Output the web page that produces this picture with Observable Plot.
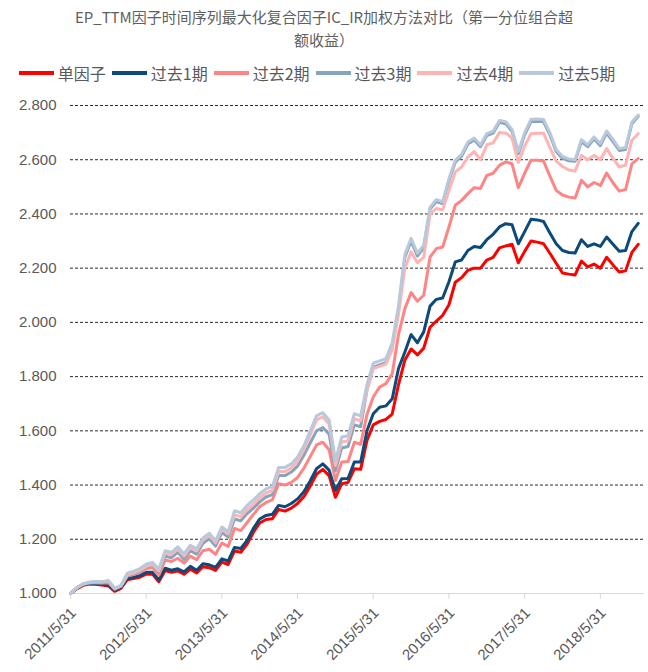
<!DOCTYPE html>
<html><head><meta charset="utf-8">
<script src="https://cdn.jsdelivr.net/npm/d3@7"></script>
<script src="https://cdn.jsdelivr.net/npm/@observablehq/plot@0.6"></script>
<style>
body{margin:0;background:#fff;}
#wrap{position:relative;width:648px;height:672px;overflow:hidden;background:#fff;}
#title{position:absolute;left:0;width:648px;top:5px;text-align:center;font-family:"Noto Sans CJK SC",sans-serif;font-size:15px;line-height:23px;color:#5f5f5f;}
#legend{position:absolute;top:61px;left:-7px;width:648px;display:flex;justify-content:center;align-items:center;font-family:"Noto Sans CJK SC",sans-serif;font-size:16px;color:#595959;}
.item{display:flex;align-items:center;margin:0 3px;}
.sw{width:35px;height:3.5px;margin-right:4px;}
#chart{position:absolute;left:0;top:0;}
</style>
</head><body>
<div id="wrap">
  <div id="title"></div>
  <div id="legend"></div>
  <div id="chart"></div>
</div>
<script>
const titleLines = ["EP_TTM因子时间序列最大化复合因子IC_IR加权方法对比（第一分位组合超", "额收益）"];
const seriesNames = ["单因子","过去1期","过去2期","过去3期","过去4期","过去5期"];
const seriesColors = ["#ff0000","#0c4a7a","#ff8585","#87a4bd","#ffb3b3","#b7c9da"];
const xTickLabels = ["2011/5/31","2012/5/31","2013/5/31","2014/5/31","2015/5/31","2016/5/31","2017/5/31","2018/5/31"];
const yTicks = [1.0,1.2,1.4,1.6,1.8,2.0,2.2,2.4,2.6,2.8];

const single = [1.000,1.017,1.030,1.035,1.034,1.031,1.028,1.008,1.019,1.051,1.055,1.060,1.071,1.072,1.043,1.085,1.078,1.083,1.071,1.090,1.076,1.099,1.095,1.085,1.116,1.107,1.157,1.152,1.182,1.226,1.260,1.273,1.276,1.310,1.304,1.315,1.332,1.357,1.396,1.440,1.458,1.435,1.355,1.405,1.410,1.460,1.458,1.565,1.622,1.635,1.642,1.662,1.770,1.860,1.902,1.880,1.905,1.982,2.005,2.026,2.065,2.148,2.165,2.192,2.200,2.200,2.230,2.240,2.275,2.282,2.288,2.220,2.262,2.300,2.296,2.290,2.255,2.218,2.182,2.178,2.175,2.226,2.205,2.215,2.200,2.240,2.212,2.186,2.190,2.258,2.288];
const past1 = [1.000,1.020,1.033,1.038,1.036,1.034,1.031,1.012,1.023,1.055,1.060,1.066,1.078,1.078,1.050,1.093,1.086,1.091,1.080,1.100,1.086,1.110,1.106,1.096,1.128,1.120,1.170,1.166,1.196,1.240,1.275,1.288,1.292,1.325,1.320,1.332,1.349,1.375,1.415,1.460,1.478,1.455,1.380,1.423,1.424,1.485,1.485,1.600,1.663,1.687,1.692,1.718,1.830,1.890,1.955,1.925,1.965,2.060,2.085,2.090,2.150,2.223,2.230,2.265,2.280,2.276,2.305,2.325,2.352,2.364,2.360,2.290,2.335,2.380,2.378,2.372,2.330,2.290,2.265,2.258,2.256,2.305,2.280,2.290,2.280,2.315,2.288,2.262,2.265,2.335,2.365];
const past2 = [1.000,1.021,1.035,1.040,1.040,1.039,1.040,1.016,1.027,1.064,1.070,1.078,1.092,1.096,1.068,1.124,1.118,1.130,1.112,1.138,1.125,1.158,1.163,1.145,1.186,1.174,1.240,1.232,1.262,1.292,1.320,1.336,1.345,1.405,1.400,1.410,1.428,1.462,1.505,1.548,1.558,1.530,1.417,1.485,1.487,1.558,1.550,1.660,1.725,1.761,1.774,1.810,1.955,2.050,2.110,2.078,2.100,2.241,2.272,2.278,2.352,2.432,2.450,2.475,2.497,2.494,2.542,2.550,2.579,2.592,2.585,2.497,2.550,2.598,2.598,2.595,2.540,2.487,2.470,2.462,2.459,2.524,2.500,2.516,2.505,2.551,2.515,2.484,2.490,2.585,2.604];
const past3 = [1.000,1.020,1.033,1.039,1.041,1.040,1.045,1.017,1.027,1.065,1.072,1.082,1.098,1.105,1.080,1.138,1.132,1.152,1.126,1.158,1.145,1.185,1.202,1.175,1.225,1.208,1.275,1.268,1.295,1.315,1.338,1.356,1.365,1.435,1.435,1.448,1.470,1.510,1.555,1.600,1.612,1.588,1.452,1.537,1.542,1.622,1.615,1.750,1.835,1.843,1.851,1.910,2.045,2.240,2.300,2.245,2.275,2.418,2.446,2.438,2.523,2.591,2.613,2.658,2.673,2.648,2.689,2.698,2.738,2.733,2.705,2.622,2.692,2.741,2.742,2.740,2.692,2.630,2.605,2.596,2.594,2.667,2.648,2.677,2.652,2.698,2.667,2.634,2.638,2.733,2.760];
const past4 = [1.000,1.021,1.035,1.041,1.043,1.042,1.046,1.018,1.028,1.068,1.075,1.085,1.100,1.107,1.083,1.150,1.144,1.164,1.138,1.170,1.157,1.197,1.214,1.187,1.237,1.220,1.290,1.283,1.310,1.330,1.353,1.371,1.380,1.450,1.450,1.463,1.488,1.530,1.585,1.640,1.652,1.625,1.472,1.559,1.564,1.645,1.637,1.750,1.830,1.838,1.846,1.900,2.030,2.200,2.260,2.220,2.240,2.400,2.420,2.415,2.487,2.555,2.573,2.610,2.630,2.600,2.655,2.662,2.700,2.698,2.680,2.590,2.650,2.696,2.698,2.698,2.645,2.595,2.575,2.562,2.558,2.616,2.600,2.616,2.600,2.641,2.605,2.573,2.580,2.672,2.696];
const past5 = [1.000,1.022,1.036,1.042,1.044,1.043,1.048,1.020,1.030,1.075,1.082,1.092,1.108,1.115,1.090,1.158,1.152,1.172,1.146,1.178,1.165,1.205,1.222,1.195,1.245,1.228,1.305,1.298,1.325,1.345,1.368,1.386,1.395,1.465,1.465,1.478,1.503,1.545,1.600,1.655,1.667,1.640,1.490,1.577,1.582,1.663,1.655,1.770,1.850,1.858,1.866,1.925,2.060,2.250,2.310,2.255,2.285,2.425,2.453,2.445,2.530,2.598,2.620,2.665,2.680,2.655,2.696,2.705,2.745,2.740,2.712,2.630,2.700,2.749,2.750,2.748,2.700,2.638,2.612,2.603,2.600,2.674,2.655,2.684,2.660,2.706,2.675,2.641,2.645,2.739,2.765];

const allSeries = [single, past1, past2, past3, past4, past5];
const rows = [];
allSeries.forEach((vals, s) => vals.forEach((v, i) => rows.push({i, v, s: seriesNames[s]})));
const tickIdx = xTickLabels.map((_, k) => k * 12);
const tickRows = xTickLabels.map((t, k) => ({i: k * 12, t}));

document.getElementById("title").innerHTML = titleLines.join("<br>");
const leg = document.getElementById("legend");
seriesNames.forEach((nm, k) => {
  const it = document.createElement("div"); it.className = "item";
  const sw = document.createElement("div"); sw.className = "sw"; sw.style.background = seriesColors[k];
  const tx = document.createElement("span"); tx.textContent = nm;
  it.appendChild(sw); it.appendChild(tx); leg.appendChild(it);
});

const chart = Plot.plot({
  width: 648, height: 672,
  marginTop: 105, marginBottom: 79, marginLeft: 70, marginRight: 4,
  style: {fontFamily: "'Liberation Sans', Arial, sans-serif", background: "transparent"},
  x: {type: "linear", domain: [0, 91], axis: null},
  y: {domain: [1, 2.8], axis: null},
  color: {domain: seriesNames, range: seriesColors},
  marks: [
    Plot.ruleY(yTicks.slice(1), {stroke: "#2a2a2a", strokeDasharray: "3,2", strokeWidth: 1}),
    Plot.ruleY([1], {stroke: "#d9d9d9", strokeWidth: 1}),
    Plot.axisY({ticks: yTicks, tickFormat: d => d.toFixed(3), tickSize: 0, tickPadding: 14, fontSize: 15, fill: "#595959", label: null}),
    Plot.axisX({ticks: tickIdx, tickFormat: () => "", tickSize: 6, stroke: "#d9d9d9", label: null}),
    Plot.text(tickRows, {x: "i", y: () => 1, text: "t", rotate: -45, textAnchor: "end", dx: 3, dy: 17, fontSize: 15, fill: "#595959"}),
    Plot.line(rows, {x: "i", y: "v", z: "s", stroke: "s", strokeWidth: 3, strokeLinejoin: "round", strokeLinecap: "round"})
  ]
});
document.getElementById("chart").appendChild(chart);
</script>
</body></html>
